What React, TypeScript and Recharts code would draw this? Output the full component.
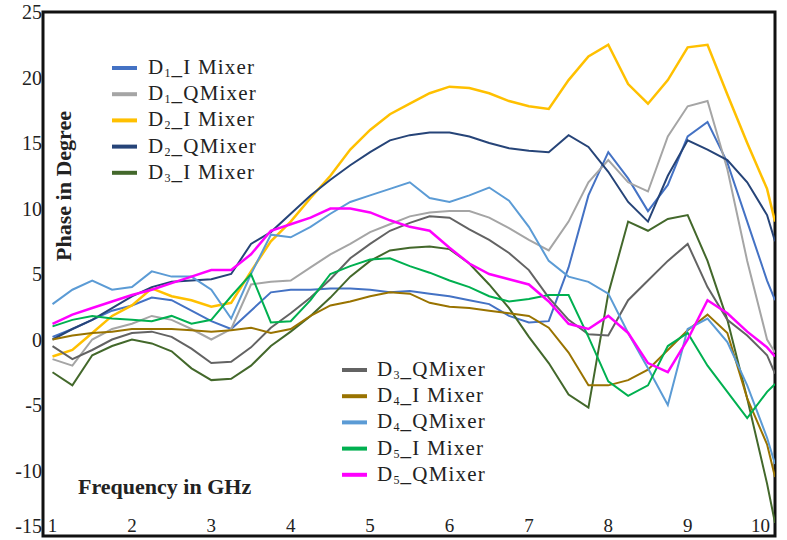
import { LineChart, Line, XAxis, YAxis, ReferenceArea } from "recharts";

const SERIF = '"Liberation Serif", "DejaVu Serif", serif';

// frequency in GHz
const FREQ = [
  1, 1.25, 1.5, 1.75, 2, 2.25, 2.5, 2.75, 3, 3.25, 3.5, 3.75, 4, 4.25, 4.5, 4.75, 5, 5.25, 5.5,
  5.75, 6, 6.25, 6.5, 6.75, 7, 7.25, 7.5, 7.75, 8, 8.25, 8.5, 8.75, 9, 9.25, 9.5, 9.75, 10, 10.1,
];

// phase in degree, one array per mixer
const D1_I = [
  0.2, 0.8, 1.5, 2.2, 2.6, 3.2, 3.0, 2.2, 1.4, 0.8, 2.2, 3.6, 3.8, 3.8, 3.9, 3.9, 3.8, 3.6, 3.7,
  3.5, 3.3, 3.0, 2.7, 1.8, 1.3, 1.4, 5.5, 11.0, 14.3, 12.3, 9.8, 11.8, 15.5, 16.6, 13.5, 9.0, 4.5, 3.0,
];
const D1_Q = [
  -1.5, -2.0, 0.0, 0.8, 1.2, 1.8, 1.5, 0.8, 0.0, 0.8, 4.2, 4.4, 4.5, 5.5, 6.5, 7.3, 8.2, 8.8, 9.4,
  9.7, 9.8, 9.8, 9.3, 8.5, 7.6, 6.8, 9.0, 12.0, 13.7, 12.0, 11.3, 15.5, 17.8, 18.2, 13.0, 6.0, 0.0, -1.0,
];
const D2_I = [
  -1.3, -0.8, 0.5, 1.8, 2.6, 3.9, 3.3, 3.0, 2.5, 2.8, 5.2, 7.5, 9.0, 10.8, 12.5, 14.5, 16.0, 17.2, 18.0,
  18.8, 19.3, 19.2, 18.8, 18.2, 17.8, 17.6, 19.8, 21.6, 22.5, 19.5, 18.0, 19.8, 22.3, 22.5, 18.7, 15.0, 11.5, 9.0,
];
const D2_Q = [
  0.0, 0.8, 1.5, 2.4, 3.3, 4.0, 4.4, 4.5, 4.6, 5.0, 7.3, 8.2, 9.6, 11.0, 12.2, 13.3, 14.3, 15.2, 15.6,
  15.8, 15.8, 15.5, 15.0, 14.6, 14.4, 14.3, 15.6, 14.7, 12.8, 10.5, 9.0, 12.5, 15.2, 14.5, 13.7, 12.0, 9.5, 7.5,
];
const D3_I = [
  -2.5, -3.5, -1.2, -0.5, 0.0, -0.3, -0.9, -2.2, -3.1, -3.0, -2.0, -0.5, 0.6, 1.8, 3.2, 4.8, 6.0, 6.8, 7.0,
  7.1, 6.9, 5.8, 4.2, 2.4, 0.2, -1.8, -4.2, -5.2, 3.5, 9.0, 8.3, 9.2, 9.5, 6.0, 1.5, -4.5, -11.0, -14.0,
];
const D3_Q = [
  -0.5, -1.5, -0.8, 0.0, 0.5, 0.6, 0.2, -0.7, -1.8, -1.7, -0.6, 0.9, 2.0, 3.2, 4.6, 6.2, 7.3, 8.3, 8.9,
  9.4, 9.3, 8.4, 7.6, 6.6, 5.3, 3.2, 1.5, 0.4, 0.3, 3.0, 4.5, 6.0, 7.3, 4.0, 1.5, 0.3, -1.2, -2.6,
];
const D4_I = [
  0.0, 0.3, 0.5, 0.6, 0.8, 0.8, 0.8, 0.7, 0.6, 0.7, 0.9, 0.5, 0.8, 1.8, 2.6, 2.9, 3.3, 3.6, 3.5,
  2.8, 2.5, 2.4, 2.2, 2.0, 1.8, 0.9, -1.0, -3.5, -3.5, -3.1, -2.3, -0.8, 0.7, 1.9, 0.5, -4.5, -8.0, -10.5,
];
const D4_Q = [
  2.7, 3.8, 4.5, 3.8, 4.0, 5.2, 4.8, 4.8, 3.8, 1.6, 5.0, 8.0, 7.8, 8.6, 9.6, 10.5, 11.0, 11.5, 12.0,
  10.8, 10.5, 11.0, 11.6, 10.6, 8.6, 6.0, 4.8, 4.4, 3.5, 0.5, -2.2, -5.0, 0.8, 1.6, -0.2, -3.5, -7.5, -9.5,
];
const D5_I = [
  1.0, 1.5, 1.8, 1.6, 1.5, 1.4, 1.8, 1.2, 1.5, 3.3, 5.0, 1.3, 1.4, 3.0, 5.0, 5.6, 6.1, 6.2, 5.6,
  5.1, 4.5, 4.0, 3.3, 2.9, 3.1, 3.4, 3.4, 0.2, -3.2, -4.3, -3.5, -0.5, 0.5, -2.0, -4.0, -6.0, -4.0, -3.4,
];
const D5_Q = [
  1.2, 1.9, 2.4, 2.9, 3.4, 3.8, 4.3, 4.8, 5.3, 5.3, 6.5, 8.3, 8.8, 9.3, 10.0, 10.0, 9.7, 9.1, 8.6,
  8.3, 7.0, 5.8, 5.0, 4.6, 4.2, 2.9, 1.2, 0.8, 1.8, 0.5, -1.8, -2.5, 0.0, 3.0, 2.0, 0.6, -0.6, -1.3,
];

const X_TICKS = [1, 2, 3, 4, 5, 6, 7, 8, 9, 10];
const Y_TICKS = [-15, -10, -5, 0, 5, 10, 15, 20, 25];

const SERIES = [
  { key: "d1i", sub: "1", rest: "_I Mixer", color: "#4472C4", width: 2, values: D1_I },
  { key: "d1q", sub: "1", rest: "_QMixer", color: "#A5A5A5", width: 2, values: D1_Q },
  { key: "d2i", sub: "2", rest: "_I Mixer", color: "#FFC000", width: 2.5, values: D2_I },
  { key: "d2q", sub: "2", rest: "_QMixer", color: "#264478", width: 2, values: D2_Q },
  { key: "d3i", sub: "3", rest: "_I Mixer", color: "#43682B", width: 2, values: D3_I },
  { key: "d3q", sub: "3", rest: "_QMixer", color: "#636363", width: 2, values: D3_Q },
  { key: "d4i", sub: "4", rest: "_I Mixer", color: "#997300", width: 2, values: D4_I },
  { key: "d4q", sub: "4", rest: "_QMixer", color: "#5B9BD5", width: 2, values: D4_Q },
  { key: "d5i", sub: "5", rest: "_I Mixer", color: "#00B050", width: 2, values: D5_I },
  { key: "d5q", sub: "5", rest: "_QMixer", color: "#FF00FF", width: 2.5, values: D5_Q },
];

const rows = FREQ.map((f, i) => {
  const r: Record<string, number> = { f };
  SERIES.forEach((s) => {
    r[s.key] = s.values[i];
  });
  return r;
});

// x tick labels sit inside the frame, just above the bottom edge
function XTick(props: any) {
  const { x, payload } = props;
  const last = payload.value === X_TICKS[X_TICKS.length - 1];
  return (
    <text
      x={last ? x + 3 : x}
      y={532}
      textAnchor={last ? "end" : "middle"}
      fontFamily={SERIF}
      fontSize={19}
      fill="#222"
    >
      {payload.value}
    </text>
  );
}

// the bottom label is nudged up so it stays inside the picture
function YTick(props: any) {
  const { y, payload } = props;
  return (
    <text x={42} y={Math.min(y + 7, 533)} textAnchor="end" fontFamily={SERIF} fontSize={20} fill="#222">
      {payload.value}
    </text>
  );
}

function LegendBlock({ items, lineX, textX, baseY }: any) {
  return (
    <g>
      {items.map((s: any, i: number) => {
        const y = baseY + i * 26.2;
        return (
          <g key={s.key}>
            <line x1={lineX} x2={lineX + 25} y1={y - 6} y2={y - 6} stroke={s.color} strokeWidth={4} />
            <text x={textX} y={y} fontFamily={SERIF} fontSize={21} fill="#222" letterSpacing={1.2}>
              D
              <tspan fontSize={12} dy={3}>
                {s.sub}
              </tspan>
              <tspan dy={-3}>{s.rest}</tspan>
            </text>
          </g>
        );
      })}
    </g>
  );
}

export default function App() {
  return (
    <div style={{ position: "absolute", left: 0, top: 0, width: 787, height: 540, background: "#fff" }}>
      <LineChart width={787} height={540} data={rows} margin={{ top: 12, right: 12, bottom: 0, left: 0 }}>
        <XAxis
          dataKey="f"
          type="number"
          domain={[0.88, 10.1]}
          ticks={X_TICKS}
          allowDataOverflow
          height={4}
          axisLine={false}
          tickLine={false}
          tick={(p: any) => <XTick {...p} />}
          interval={0}
        />
        <YAxis
          type="number"
          domain={[-15, 25]}
          ticks={Y_TICKS}
          allowDataOverflow
          width={43}
          axisLine={false}
          tickLine={false}
          tick={(p: any) => <YTick {...p} />}
          interval={0}
        />
        {SERIES.map((s) => (
          <Line
            key={s.key}
            dataKey={s.key}
            name={s.key}
            type="linear"
            stroke={s.color}
            strokeWidth={s.width}
            dot={false}
            isAnimationActive={false}
          />
        ))}
        <ReferenceArea
          x1={0.88}
          x2={10.1}
          y1={-15}
          y2={25}
          fill="none"
          stroke="#111"
          strokeWidth={3}
          ifOverflow="visible"
        />
      </LineChart>
      <svg
        width={787}
        height={540}
        style={{ position: "absolute", left: 0, top: 0, pointerEvents: "none" }}
      >
        <LegendBlock items={SERIES.slice(0, 5)} lineX={112} textX={148} baseY={74} />
        <LegendBlock items={SERIES.slice(5)} lineX={342} textX={377} baseY={376} />
        <text
          transform="translate(71,186) rotate(-90)"
          textAnchor="middle"
          fontFamily={SERIF}
          fontSize={22}
          fontWeight="bold"
          fill="#222"
        >
          Phase in Degree
        </text>
        <text x={78} y={494} fontFamily={SERIF} fontSize={22} fontWeight="bold" fill="#222">
          Frequency in GHz
        </text>
      </svg>
    </div>
  );
}
